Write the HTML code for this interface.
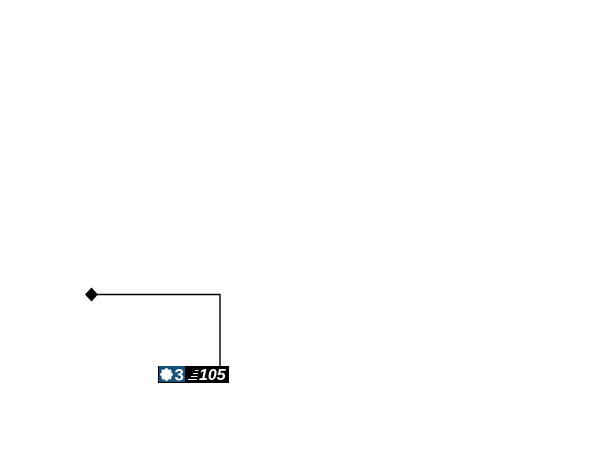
<!DOCTYPE html>
<html>
<head>
<meta charset="utf-8">
<style>
html,body{margin:0;padding:0;background:#fff;width:600px;height:468px;overflow:hidden}
svg{display:block}
text{font-family:"Liberation Sans",sans-serif;font-weight:bold;fill:#fff}
</style>
</head>
<body>
<svg width="600" height="468" viewBox="0 0 600 468" xmlns="http://www.w3.org/2000/svg">
<path d="M91 294.500H220V366" fill="none" stroke="#000" stroke-width="1.400"/>
<path d="M91.500 287.500L98 294.500L91.500 301.500L85 294.500Z" fill="#000"/>
<rect x="158" y="366" width="71" height="17" fill="#000"/>
<rect x="159" y="366" width="26" height="16" fill="#14537d"/>
<circle cx="166.500" cy="374.500" r="5.500" fill="#fff"/>
<path d="M166.500 368v13M160 374.500h13M162 370l9 9M171 370l-9 9" stroke="#fff" stroke-width="2" fill="none"/>
<text x="174.500" y="380.500" font-size="17">3</text>
<path d="M195 370.500h3.500M193 373.500h5M191 376.500h6.500M188 379.500h9" stroke="#fff" stroke-width="1" fill="none"/>
<text x="199" y="380" font-size="16" font-style="italic">105</text>
</svg>
</body>
</html>
